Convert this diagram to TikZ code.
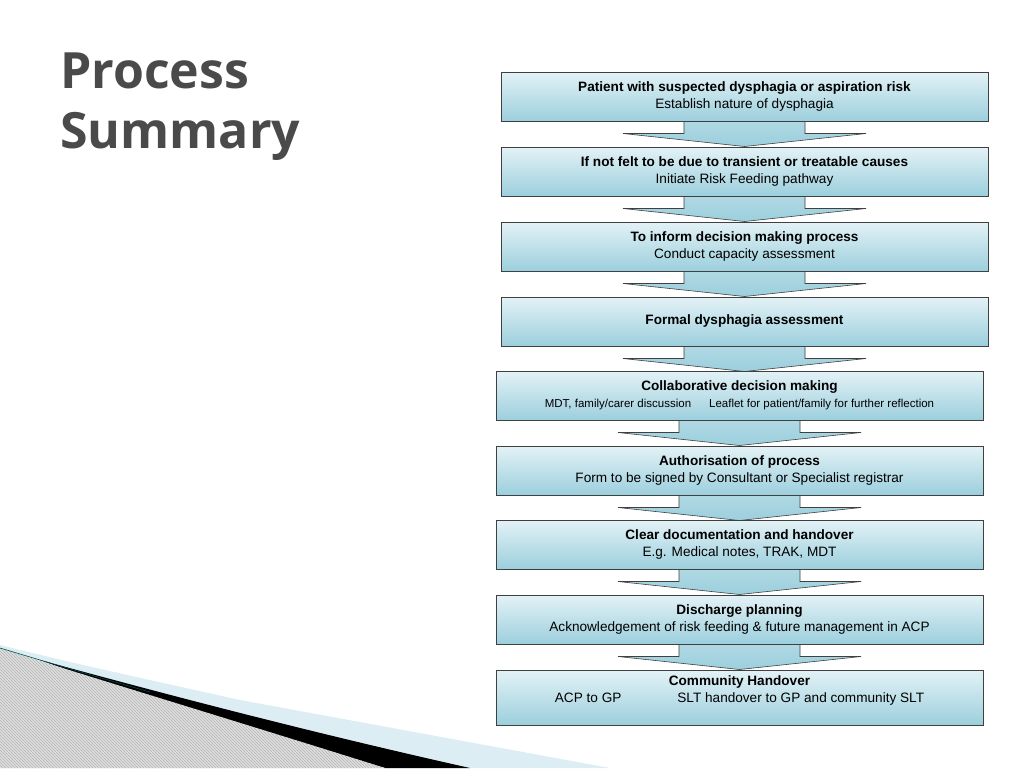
\documentclass[tikz,border=0pt]{standalone}
\usepackage{fontspec}
\setmainfont{Liberation Sans}
\newfontfamily\titlefont{Open Sans}
\usetikzlibrary{patterns}
\definecolor{boxtop}{HTML}{E3F2F6}
\definecolor{boxbot}{HTML}{9CCFDD}
\definecolor{titlegray}{HTML}{4A4A4A}
\begin{document}
\begin{tikzpicture}[x=1pt,y=-1pt,
  box/.style={draw=black!75,line width=0.8pt,top color=boxtop,bottom color=boxbot,minimum height=49pt,align=center,font=\fontsize{13.6}{16.5}\selectfont,inner sep=0pt},
  arr/.style={draw=black!75,line width=0.6pt,top color=boxbot!80,bottom color=boxbot}]
\useasboundingbox (0,0) rectangle (1024,768);
\fill[white] (0,0) rectangle (1024,768);
% decoration
\fill[boxtop!90!boxbot] (0,645) .. controls (80,665) and (150,680) .. (240,700) -- (610,768) -- (0,768) -- cycle;
\fill[black] (40,660) .. controls (150,690) and (300,730) .. (470,768) -- (385,768) .. controls (250,730) and (150,700) .. (40,660) -- cycle;
\fill[gray!25] (0,648) .. controls (60,668) and (200,710) .. (385,768) -- (0,768) -- cycle;
\fill[pattern=north west lines,pattern color=gray!60] (0,648) .. controls (60,668) and (200,710) .. (385,768) -- (0,768) -- cycle;
\draw[teal!60!black,line width=0.6pt] (0,648) .. controls (40,660) and (90,675) .. (150,692);
% title
\node[anchor=base west,inner sep=0pt,align=left,font=\titlefont\bfseries\fontsize{50}{60}\selectfont,text=titlegray] (title) at (60,148) {Process\\Summary};
% arrows
\foreach \yt/\cx in {121/744.5,196/744.5,271/744.5,346/744.5,420/739.5,495/739.5,569/739.5,644/739.5}{
  \draw[arr] (\cx-60.5,\yt) -- (\cx-60.5,\yt+12.5) -- (\cx-121.5,\yt+12.5) -- (\cx,\yt+25.5) -- (\cx+121.5,\yt+12.5) -- (\cx+60.5,\yt+12.5) -- (\cx+60.5,\yt) -- cycle;
}
% boxes
\node[box,minimum width=487pt] (b1) at (744.5,96.5) {\textbf{Patient with suspected dysphagia or aspiration risk}\\Establish nature of dysphagia};
\node[box,minimum width=487pt] (b2) at (744.5,171.5) {\textbf{If not felt to be due to transient or treatable causes}\\Initiate Risk Feeding pathway};
\node[box,minimum width=487pt] (b3) at (744.5,246.5) {\textbf{To inform decision making process}\\Conduct capacity assessment};
\node[box,minimum width=487pt] (b4) at (744.5,321.5) {\textbf{Formal dysphagia assessment}};
\node[box,minimum width=487pt] (b5) at (739.5,395.5) {\textbf{Collaborative decision making}\\{\fontsize{11.5}{14}\selectfont MDT, family/carer discussion\hspace{18pt}Leaflet for patient/family for further reflection}};
\node[box,minimum width=487pt] (b6) at (739.5,470.5) {\textbf{Authorisation of process}\\Form to be signed by Consultant or Specialist registrar};
\node[box,minimum width=487pt] (b7) at (739.5,544.5) {\textbf{Clear documentation and handover}\\E.g. Medical notes, TRAK, MDT};
\node[box,minimum width=487pt] (b8) at (739.5,619.5) {\textbf{Discharge planning}\\Acknowledgement of risk feeding \& future management in ACP};
\node[box,minimum width=487pt,minimum height=55pt] (b9) at (739.5,697.5) {\textbf{Community Handover}\\ACP to GP\hspace{56pt}SLT handover to GP and community SLT\\\mbox{}};
\end{tikzpicture}
\end{document}
